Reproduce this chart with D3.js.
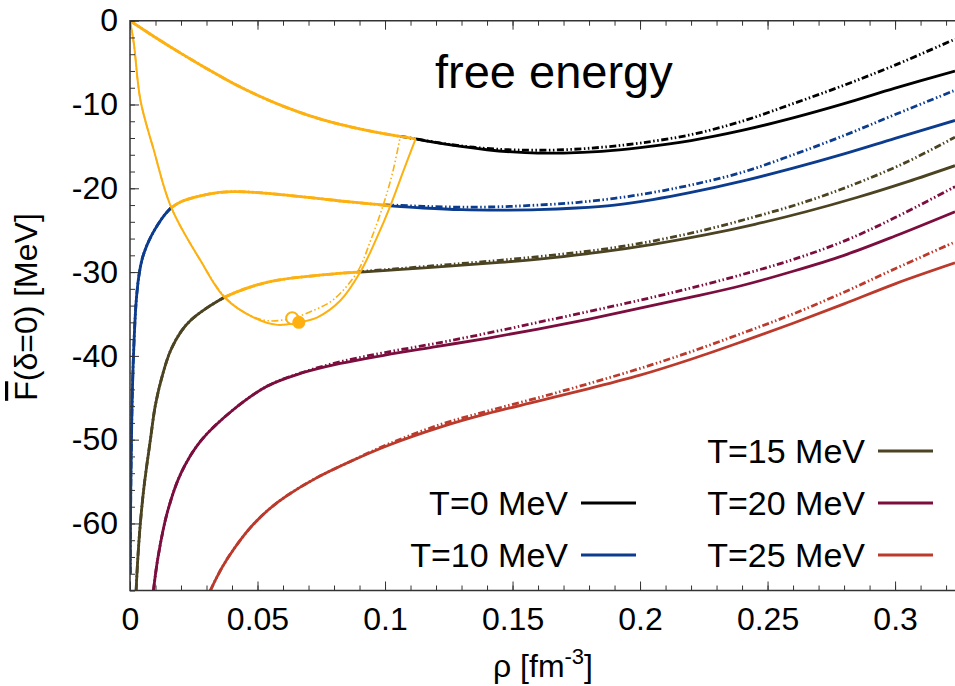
<!DOCTYPE html>
<html>
<head>
<meta charset="utf-8">
<script src="https://cdn.jsdelivr.net/npm/d3@7"></script>
<style>
  body { margin: 0; background: #fff; }
  svg text { font-family: "Liberation Sans", Arial, Helvetica, sans-serif; fill: #000; }
</style>
</head>
<body>
<svg id="chart" width="955" height="686"></svg>
<script>
// ---- data: rho [fm^-3], free energy per nucleon [MeV]
var rho0 = [0, 0.01, 0.02, 0.03, 0.04, 0.05, 0.06, 0.07, 0.08, 0.09, 0.1, 0.106, 0.112, 0.125, 0.14, 0.155, 0.17, 0.185, 0.2, 0.22, 0.24, 0.26, 0.28, 0.3, 0.3235];
var f0 = [0, -2.0, -3.9, -5.7, -7.4, -8.9, -10.2, -11.3, -12.2, -12.9, -13.5, -13.8, -14.1, -14.8, -15.4, -15.75, -15.8, -15.6, -15.15, -14.3, -13.1, -11.6, -9.9, -8.05, -6.0];
var f0dash = [0, -2.0, -3.9, -5.7, -7.4, -8.9, -10.2, -11.3, -12.2, -12.9, -13.5, -13.8, -14.1, -14.75, -15.25, -15.45, -15.4, -15.1, -14.6, -13.6, -12.0, -9.9, -7.7, -5.3, -2.2];

var rho10 = [0.0001, 0.0003, 0.0007, 0.0013, 0.0024, 0.0035, 0.0048, 0.0065, 0.0085, 0.011, 0.0135, 0.0162, 0.02, 0.0276, 0.035, 0.0406, 0.047, 0.054, 0.064, 0.0735, 0.085, 0.0993, 0.1021, 0.115, 0.13, 0.145, 0.16, 0.175, 0.19, 0.205, 0.22, 0.24, 0.26, 0.28, 0.3, 0.3235];
var f10 = [-66, -56, -47.5, -40.5, -33.6, -30.4, -28.4, -26.9, -25.6, -24.3, -23.2, -22.3, -21.6, -20.9, -20.5, -20.4, -20.45, -20.6, -20.9, -21.2, -21.6, -22.0, -22.1, -22.35, -22.55, -22.6, -22.55, -22.35, -22.0, -21.35, -20.5, -19.15, -17.6, -15.9, -14.05, -11.9];
var f10dash = [-66, -56, -47.5, -40.5, -33.6, -30.4, -28.4, -26.9, -25.6, -24.3, -23.2, -22.3, -21.6, -20.9, -20.5, -20.4, -20.45, -20.6, -20.9, -21.2, -21.6, -22.0, -22.0, -22.15, -22.25, -22.2, -22.0, -21.7, -21.2, -20.5, -19.6, -18.1, -16.0, -13.7, -11.2, -8.3];

var rho15 = [0.0024, 0.003, 0.004, 0.0055, 0.008, 0.01, 0.013, 0.016, 0.02, 0.024, 0.03, 0.037, 0.045, 0.054, 0.064, 0.0735, 0.082, 0.0891, 0.0903, 0.105, 0.125, 0.145, 0.165, 0.185, 0.205, 0.225, 0.245, 0.265, 0.285, 0.305, 0.3235];
var f15 = [-68, -64.5, -60.2, -55.6, -50.0, -45.8, -42.0, -39.3, -37.1, -35.7, -34.3, -33.0, -32.0, -31.2, -30.7, -30.4, -30.15, -30.0, -30.0, -29.7, -29.3, -28.85, -28.3, -27.6, -26.7, -25.6, -24.3, -22.8, -21.1, -19.2, -17.3];
var f15dash = [-68, -64.5, -60.2, -55.6, -50.0, -45.8, -42.0, -39.3, -37.1, -35.7, -34.3, -33.0, -32.0, -31.2, -30.7, -30.4, -30.15, -30.0, -29.95, -29.6, -29.1, -28.6, -28.0, -27.3, -26.3, -25.0, -23.4, -21.6, -19.4, -16.8, -13.9];

var rho20 = [0.0092, 0.011, 0.0147, 0.02, 0.0276, 0.0406, 0.0539, 0.0668, 0.0825, 0.1, 0.12, 0.14, 0.16, 0.18, 0.2, 0.22, 0.24, 0.26, 0.28, 0.3, 0.3235];
var f20 = [-68, -64.0, -58.6, -54.0, -50.2, -46.4, -43.6, -42.1, -40.9, -39.9, -38.9, -37.9, -36.8, -35.6, -34.3, -33.0, -31.6, -29.9, -28.0, -25.7, -22.8];
var f20dash = [-68, -64.0, -58.6, -54.0, -50.2, -46.4, -43.6, -42.05, -40.7, -39.6, -38.5, -37.3, -36.0, -34.7, -33.35, -31.9, -30.3, -28.5, -26.3, -23.5, -19.8];

var rho25 = [0.0315, 0.036, 0.0406, 0.0472, 0.0545, 0.0617, 0.0735, 0.0864, 0.1019, 0.1217, 0.14, 0.16, 0.18, 0.2, 0.22, 0.24, 0.26, 0.28, 0.3, 0.3235];
var f25 = [-68, -65.3, -63.1, -60.5, -58.3, -56.65, -54.5, -52.6, -50.6, -48.5, -46.9, -45.4, -43.9, -42.3, -40.4, -38.3, -36.1, -33.8, -31.4, -28.9];
var f25dash = [-68, -65.3, -63.1, -60.5, -58.3, -56.65, -54.5, -52.6, -50.45, -48.2, -46.6, -45.0, -43.3, -41.5, -39.5, -37.3, -35.0, -32.4, -29.6, -26.4];

// coexistence boundary (solid / dash-dot-dot) and the two critical points
var rhoB = [0, 0.0015, 0.0041, 0.0093, 0.0162, 0.0276, 0.037, 0.0484, 0.0578, 0.066, 0.0735, 0.0825, 0.0903, 0.0965, 0.1021, 0.107, 0.112];
var fB = [0, -2.7, -9.5, -15.4, -22.3, -28.6, -33.0, -35.4, -36.3, -36.0, -35.4, -33.4, -30.0, -26.1, -22.1, -18.1, -14.1];
var rhoBdash = [0, 0.0015, 0.0041, 0.0093, 0.0162, 0.0276, 0.037, 0.046, 0.0539, 0.0636, 0.0725, 0.0797, 0.0891, 0.0945, 0.0993, 0.103, 0.106];
var fBdash = [0, -2.7, -9.5, -15.4, -22.3, -28.6, -32.9, -35.0, -35.8, -35.5, -34.5, -33.3, -30.0, -26.1, -22.0, -18.1, -13.8];
var critOpen = [0.0636, -35.5];
var critFilled = [0.0662, -36.0];

// where each isotherm enters / leaves the orange (coexistence) part: [low, high solid, high dashed]
var coexLimits = [[0, 0.112, 0.106], [0.0162, 0.1021, 0.0993], [0.037, 0.0903, 0.0891], null, null];

var temps = [0, 10, 15, 20, 25];
var legendLabels = ['T=0 MeV', 'T=10 MeV', 'T=15 MeV', 'T=20 MeV', 'T=25 MeV'];
var xTicks = [0, 0.05, 0.1, 0.15, 0.2, 0.25, 0.3];
var xTickLabels = ['0', '0.05', '0.1', '0.15', '0.2', '0.25', '0.3'];
var yTicks = [0, -10, -20, -30, -40, -50, -60];
var yTickLabels = ['0', '-10', '-20', '-30', '-40', '-50', '-60'];

var colors = ['#000000', '#0c3c8e', '#4b4321', '#7b0e3e', '#bb3a2c'];
var orange = '#fdb00f';
var dashPattern = '7,2.5,1.5,2.5,1.5,2.5';

var svg = d3.select('#chart'),
    plotL = 130, plotT = 20.7, plotR = 955, plotB = 590.5;

var x = d3.scaleLinear().domain([0, 0.3235]).range([plotL, plotR]),
    y = d3.scaleLinear().domain([-68, 0]).range([plotB, plotT]);

var line = d3.line()
    .x(function(d){ return x(d[0]); })
    .y(function(d){ return y(d[1]); })
    .curve(d3.curveCatmullRom.alpha(0.5));

svg.append('defs').append('clipPath').attr('id', 'plotclip')
    .append('rect').attr('x', plotL).attr('y', plotT).attr('width', plotR - plotL).attr('height', plotB - plotT);

var plot = svg.append('g').attr('clip-path', 'url(#plotclip)');

// split an isotherm into the part left of, inside and right of the coexistence region
var split = function(pts, lo, hi){
    return {
        left: pts.filter(function(p){ return p[0] <= lo; }),
        mid: pts.filter(function(p){ return p[0] >= lo && p[0] <= hi; }),
        right: pts.filter(function(p){ return p[0] >= hi; })
    };
};

var isotherms = [
    {rho: rho0, f: f0, fd: f0dash},
    {rho: rho10, f: f10, fd: f10dash},
    {rho: rho15, f: f15, fd: f15dash},
    {rho: rho20, f: f20, fd: f20dash},
    {rho: rho25, f: f25, fd: f25dash}
];

var drawPath = function(pts, color, width, dashed){
    if (pts.length < 2) return;
    plot.append('path')
        .attr('d', line(pts))
        .attr('fill', 'none')
        .attr('stroke', color)
        .attr('stroke-width', width)
        .attr('stroke-linejoin', 'round')
        .attr('stroke-dasharray', dashed ? dashPattern : null);
};

// ================ isotherms, colored parts first, orange on top
var orangeParts = [];
isotherms.forEach(function(s, i){
    var solid = d3.zip(s.rho, s.f), dash = d3.zip(s.rho, s.fd), lim = coexLimits[i];
    if (!lim) {
        drawPath(solid, colors[i], 2.8, false);
        drawPath(dash, colors[i], 2.8, true);
        return;
    }
    var a = split(solid, lim[0], lim[1]), b = split(dash, lim[0], lim[2]);
    if (lim[0] > 0) {
        drawPath(a.left, colors[i], 2.8, false);
        drawPath(b.left, colors[i], 2.8, true);
    }
    drawPath(a.right, colors[i], 2.8, false);
    drawPath(b.right, colors[i], 2.8, true);
    orangeParts.push([a.mid, false], [b.mid, true]);
});
orangeParts.forEach(function(p){ drawPath(p[0], orange, 2.8, p[1]); });

// ================ coexistence boundary
drawPath(d3.zip(rhoB, fB), orange, 2, false);
drawPath(d3.zip(rhoBdash, fBdash), orange, 1.6, true);

plot.append('circle')
    .attr('cx', x(critOpen[0])).attr('cy', y(critOpen[1])).attr('r', 6)
    .attr('fill', '#fff').attr('stroke', orange).attr('stroke-width', 2);
plot.append('circle')
    .attr('cx', x(critFilled[0])).attr('cy', y(critFilled[1])).attr('r', 6.5)
    .attr('fill', orange);

// ================ axes, ticks point inward like gnuplot
var fmt = function(labels, values){ return function(d){ var k = values.indexOf(d); return k < 0 ? '' : labels[k]; }; };
var xMinor = d3.range(0, 33).map(function(k){ return k / 100; }),
    yMinor = d3.range(0, 35).map(function(k){ return -2 * k; });

var axisStyle = function(g){
    g.select('.domain').remove();
    g.selectAll('line').attr('stroke', '#333').attr('stroke-width', 1);
    g.selectAll('text').attr('font-size', '32px').attr('fill', '#000');
};

svg.append('g').attr('transform', 'translate(0,' + plotB + ')')
    .call(d3.axisBottom(x).tickValues(xMinor).tickSize(-5).tickFormat('')).call(axisStyle);
svg.append('g').attr('transform', 'translate(0,' + plotB + ')')
    .call(d3.axisBottom(x).tickValues(xTicks).tickSize(-9).tickPadding(17).tickFormat(fmt(xTickLabels, xTicks))).call(axisStyle);
svg.append('g').attr('transform', 'translate(0,' + plotT + ')')
    .call(d3.axisTop(x).tickValues(xMinor).tickSize(-5).tickFormat('')).call(axisStyle);
svg.append('g').attr('transform', 'translate(0,' + plotT + ')')
    .call(d3.axisTop(x).tickValues(xTicks).tickSize(-9).tickFormat('')).call(axisStyle);
svg.append('g').attr('transform', 'translate(' + plotL + ',0)')
    .call(d3.axisLeft(y).tickValues(yMinor).tickSize(-5).tickFormat('')).call(axisStyle);
svg.append('g').attr('transform', 'translate(' + plotL + ',0)')
    .call(d3.axisLeft(y).tickValues(yTicks).tickSize(-9).tickPadding(12).tickFormat(fmt(yTickLabels, yTicks))).call(axisStyle);

svg.append('path')
    .attr('d', 'M' + plotR + ',' + plotT + 'H' + plotL + 'V' + plotB + 'H' + plotR)
    .attr('fill', 'none').attr('stroke', '#333').attr('stroke-width', 1.5);

// ================ labels
svg.append('text').attr('x', 435).attr('y', 88).attr('font-size', '47px').text('free energy');

var xl = svg.append('text').attr('x', 543).attr('y', 677).attr('text-anchor', 'middle').attr('font-size', '32px');
xl.append('tspan').text('\u03c1 [fm');
xl.append('tspan').attr('dy', -13).attr('font-size', '22px').text('-3');
xl.append('tspan').attr('dy', 13).text(']');

var yl = svg.append('text').attr('transform', 'translate(37,307) rotate(-90)')
    .attr('text-anchor', 'middle').attr('font-size', '32px');
yl.append('tspan').style('text-decoration', 'overline').text('F');
yl.append('tspan').text('(\u03b4=0) [MeV]');

// ================ legend, two columns
var legend = svg.append('g').selectAll('g').data(temps).enter().append('g')
    .attr('transform', function(d, i){
        var col = i < 2 ? 0 : 1, row = i < 2 ? i + 1 : i - 2;
        return 'translate(' + (col ? 865 : 568) + ',' + (463 + row * 52) + ')';
    });
legend.append('text').attr('text-anchor', 'end').attr('font-size', '34px')
    .text(function(d, i){ return legendLabels[i]; });
legend.append('line')
    .attr('x1', 13).attr('x2', 68).attr('y1', -12).attr('y2', -12)
    .attr('stroke', function(d, i){ return colors[i]; })
    .attr('stroke-width', 3);
</script>
</body>
</html>
